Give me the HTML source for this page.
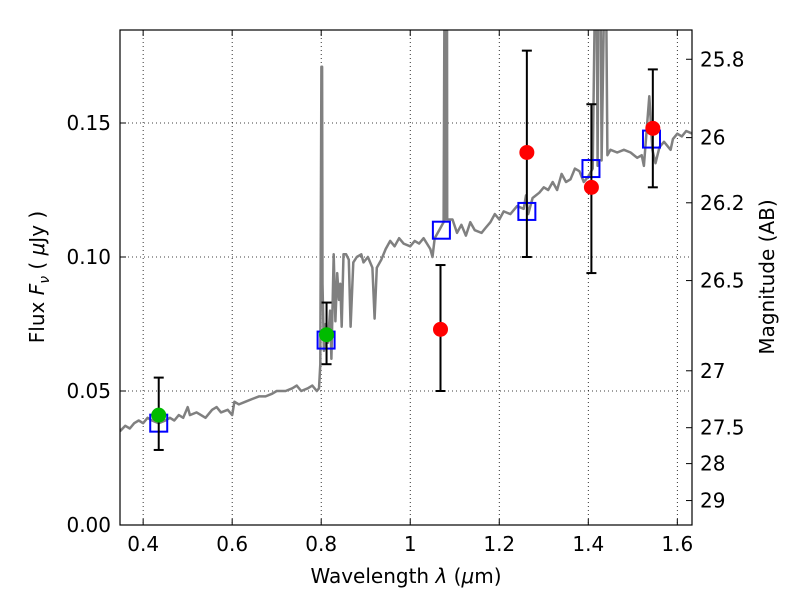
<!DOCTYPE html>
<html><head><meta charset="utf-8"><style>
body{margin:0;background:#fff}
svg text{font-family:"DejaVu Sans","Liberation Sans",sans-serif;fill:#000}
</style></head><body>
<svg id="chart" width="800" height="600" viewBox="0 0 800 600">
<defs><clipPath id="clip"><rect x="120" y="30" width="572" height="495"/></clipPath></defs>
<rect x="0" y="0" width="800" height="600" fill="#fff"/>
<g id="grid"></g>
<g id="spec" clip-path="url(#clip)"></g>
<g id="marks"></g>
<rect x="120" y="30" width="572" height="495" fill="none" stroke="#000" stroke-width="1.2"/>
<g id="axes"></g>
<text x="406" y="583" font-size="20" text-anchor="middle">Wavelength  <tspan font-style="italic">λ</tspan> (<tspan font-style="italic">μ</tspan>m)</text>
<text transform="translate(44,277) rotate(-90)" font-size="20" text-anchor="middle">Flux  <tspan font-style="italic">F</tspan><tspan font-style="italic" font-size="14" dy="5">ν</tspan><tspan dy="-5">  (  </tspan><tspan font-style="italic">μ</tspan>Jy )</text>
<text transform="translate(774,277) rotate(-90)" font-size="20" text-anchor="middle">Magnitude (AB)</text>
</svg>
<script>
const specWave=[0.348,0.36,0.37,0.38,0.39,0.40,0.41,0.42,0.435,0.45,0.46,0.47,0.48,0.49,0.50,0.505,0.52,0.53,0.54,0.555,0.565,0.575,0.59,0.60,0.605,0.615,0.63,0.645,0.66,0.675,0.69,0.70,0.72,0.735,0.745,0.755,0.77,0.78,0.79,0.795,0.798,0.8005,0.802,0.803,0.806,0.81,0.815,0.82,0.823,0.828,0.832,0.836,0.84,0.843,0.846,0.85,0.856,0.862,0.866,0.872,0.88,0.89,0.895,0.905,0.915,0.92,0.925,0.935,0.945,0.955,0.965,0.975,0.985,1.0,1.01,1.02,1.03,1.045,1.05,1.055,1.065,1.075,1.077,1.079,1.0795,1.0805,1.0825,1.083,1.095,1.105,1.115,1.125,1.135,1.145,1.16,1.17,1.18,1.19,1.2,1.21,1.225,1.24,1.255,1.26,1.265,1.275,1.29,1.3,1.31,1.32,1.33,1.34,1.35,1.36,1.37,1.38,1.39,1.40,1.41,1.415,1.419,1.421,1.423,1.428,1.43,1.436,1.44,1.443,1.45,1.465,1.48,1.495,1.51,1.52,1.525,1.537,1.544,1.551,1.56,1.57,1.585,1.59,1.60,1.61,1.62,1.634];
const specFlux=[0.035,0.037,0.036,0.038,0.039,0.038,0.040,0.039,0.038,0.039,0.040,0.039,0.041,0.040,0.044,0.041,0.042,0.041,0.040,0.043,0.044,0.042,0.043,0.041,0.046,0.045,0.046,0.047,0.048,0.048,0.049,0.050,0.050,0.051,0.052,0.050,0.051,0.052,0.050,0.051,0.060,0.171,0.171,0.090,0.065,0.075,0.068,0.080,0.062,0.101,0.076,0.094,0.084,0.090,0.074,0.101,0.101,0.099,0.074,0.098,0.100,0.101,0.098,0.100,0.096,0.077,0.096,0.099,0.103,0.106,0.104,0.107,0.105,0.104,0.106,0.105,0.107,0.103,0.100,0.107,0.110,0.113,0.20,0.20,0.114,0.20,0.20,0.114,0.114,0.109,0.112,0.108,0.113,0.110,0.109,0.111,0.113,0.116,0.114,0.117,0.116,0.119,0.118,0.123,0.116,0.122,0.124,0.126,0.125,0.128,0.125,0.131,0.128,0.129,0.133,0.132,0.128,0.130,0.133,0.20,0.20,0.134,0.20,0.20,0.136,0.20,0.20,0.138,0.140,0.139,0.140,0.139,0.137,0.138,0.134,0.160,0.140,0.135,0.141,0.143,0.140,0.144,0.146,0.145,0.147,0.146];
const obsWave=[0.435,0.812,1.068,1.262,1.407,1.545];
const obsFlux=[0.041,0.071,0.073,0.139,0.126,0.148];
const obsLo=[0.028,0.060,0.050,0.100,0.094,0.126];
const obsHi=[0.055,0.083,0.097,0.177,0.157,0.170];
const obsColor=['#00bb00','#00bb00','#ff0000','#ff0000','#ff0000','#ff0000'];
const modelWave=[0.435,0.811,1.070,1.262,1.406,1.542];
const modelFlux=[0.038,0.069,0.110,0.117,0.133,0.144];
const xTicks=[0.4,0.6,0.8,1.0,1.2,1.4,1.6];
const xTickLabels=['0.4','0.6','0.8','1','1.2','1.4','1.6'];
const yTicks=[0,0.05,0.10,0.15];
const yTickLabels=['0.00','0.05','0.10','0.15'];
const magTicks=[25.8,26,26.2,26.5,27,27.5,28,29];
const magTickLabels=['25.8','26','26.2','26.5','27','27.5','28','29'];

const X0=120,X1=692,Y0=525,Y1=30,xmin=0.348,xmax=1.633,ymin=0,ymax=0.1847;
const sx=v=>X0+(v-xmin)/(xmax-xmin)*(X1-X0);
const sy=v=>Y0-(v-ymin)/(ymax-ymin)*(Y0-Y1);
const NS='http://www.w3.org/2000/svg';
function mk(tag,attrs,parent){const e=document.createElementNS(NS,tag);for(const k in attrs)e.setAttribute(k,attrs[k]);parent.appendChild(e);return e;}
const grid=document.getElementById('grid'),axes=document.getElementById('axes'),spec=document.getElementById('spec'),marks=document.getElementById('marks');
xTicks.forEach((t,i)=>{const x=sx(t);
 const g=mk('line',{x1:x,x2:x,y1:Y1,y2:Y0,stroke:'#000','stroke-width':0.8,'stroke-dasharray':'1,3'},grid);
 
 
 mk('line',{x1:x,x2:x,y1:Y0,y2:Y0-6,stroke:'#000'},axes);
 mk('line',{x1:x,x2:x,y1:Y1,y2:Y1+6,stroke:'#000'},axes);
 const tx=mk('text',{x:x,y:Y0+26,'font-size':20,'text-anchor':'middle'},axes);tx.textContent=xTickLabels[i];
 
 
});
yTicks.forEach((t,i)=>{const y=sy(t);
 const g=mk('line',{x1:X0,x2:X1,y1:y,y2:y,stroke:'#000','stroke-width':0.8,'stroke-dasharray':'1,3'},grid);
 
 
 mk('line',{x1:X0,x2:X0+6,y1:y,y2:y,stroke:'#000'},axes);
 const tx=mk('text',{x:X0-9,y:y+7,'font-size':20,'text-anchor':'end'},axes);tx.textContent=yTickLabels[i];
 
 
});
magTicks.forEach((m,i)=>{const y=sy(Math.pow(10,(23.9-m)/2.5));
 mk('line',{x1:X1-6,x2:X1,y1:y,y2:y,stroke:'#000'},axes);
 const tx=mk('text',{x:X1+8,y:y+7,'font-size':20},axes);tx.textContent=magTickLabels[i];
 
 
});
const pts=specWave.map((w,i)=>sx(w).toFixed(1)+','+sy(specFlux[i]).toFixed(1)).join(' ');
const pl=mk('polyline',{points:pts,fill:'none',stroke:'#808080','stroke-width':2.5,'stroke-linejoin':'round'},spec);


modelWave.forEach((w,i)=>{
 const r=mk('rect',{x:sx(w)-8.5,y:sy(modelFlux[i])-8.5,width:17,height:17,fill:'none',stroke:'#0000ff','stroke-width':2},marks);
 
 
});
obsWave.forEach((w,i)=>{const x=sx(w);
 const eb=mk('g',{stroke:'#000','stroke-width':2},marks);
 
 
 mk('line',{x1:x,x2:x,y1:sy(obsLo[i]),y2:sy(obsHi[i])},eb);
 mk('line',{x1:x-5,x2:x+5,y1:sy(obsLo[i]),y2:sy(obsLo[i])},eb);
 mk('line',{x1:x-5,x2:x+5,y1:sy(obsHi[i]),y2:sy(obsHi[i])},eb);
 const c=mk('circle',{cx:x,cy:sy(obsFlux[i]),r:7.5,fill:obsColor[i]},marks);
 
 
});
</script>
</body></html>
